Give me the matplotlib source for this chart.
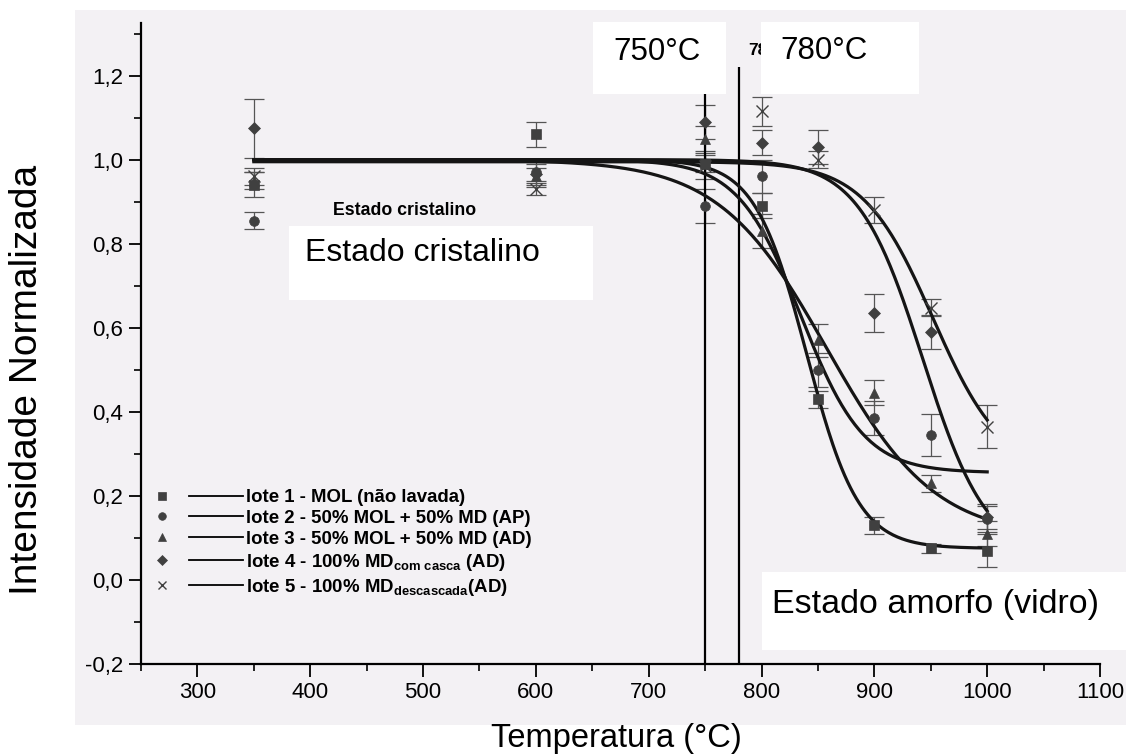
import numpy as np
import matplotlib
matplotlib.use("Agg")
import matplotlib.pyplot as plt
from matplotlib.lines import Line2D
from matplotlib.legend_handler import HandlerBase
from matplotlib.patches import Rectangle
from matplotlib.ticker import MultipleLocator, FuncFormatter

plt.rcParams["font.family"] = ["Liberation Sans", "DejaVu Sans"]
plt.rcParams["mathtext.fontset"] = "custom"
plt.rcParams["mathtext.rm"] = "Liberation Sans:bold"
plt.rcParams["mathtext.it"] = "Liberation Sans:bold"
plt.rcParams["mathtext.bf"] = "Liberation Sans:bold"

# measured normalised intensity per batch
temps = [350, 600, 750, 800, 850, 900, 950, 1000]
lote1 = [0.94, 1.06, 0.99, 0.89, 0.43, 0.13, 0.075, 0.07]
lote2 = [0.855, 0.97, 0.89, 0.96, 0.50, 0.385, 0.345, 0.145]
lote3 = [0.95, 0.96, 1.05, 0.83, 0.57, 0.445, 0.23, 0.11]
lote4 = [1.075, 0.965, 1.09, 1.04, 1.03, 0.635, 0.59, 0.15]
lote5 = [0.96, 0.93, 0.985, 1.115, 1.00, 0.88, 0.648, 0.365]
err1 = [0.03, 0.03, 0.02, 0.03, 0.02, 0.02, 0.01, 0.04]
err2 = [0.02, 0.02, 0.04, 0.04, 0.04, 0.04, 0.05, 0.03]
err3 = [0.02, 0.02, 0.03, 0.04, 0.04, 0.03, 0.02, 0.03]
err4 = [0.07, 0.03, 0.04, 0.03, 0.04, 0.045, 0.04, 0.03]
err5 = [0.02, 0.015, 0.03, 0.035, 0.02, 0.03, 0.02, 0.05]

labels = [
    "lote 1 - MOL (não lavada)",
    "lote 2 - 50% MOL + 50% MD (AP)",
    "lote 3 - 50% MOL + 50% MD (AD)",
    r"lote 4 - 100% MD$_{\mathrm{com\ casca}}$ (AD)",
    r"lote 5 - 100% MD$_{\mathrm{descascada}}$(AD)",
]

# Boltzmann fit parameters per batch
fit_top = [1.0, 1.0, 1.0, 1.0, 0.995]
fit_bottom = [0.075, 0.255, 0.10, 0.05, 0.25]
fit_x0 = [840, 835, 858, 943, 952]
fit_dx = [23, 28, 48, 28.6, 31]

transitions = [750, 780]

series = [lote1, lote2, lote3, lote4, lote5]
errors = [err1, err2, err3, err4, err5]
markers = ["s", "o", "^", "D", "x"]
msizes = [6.5, 7, 7.5, 6, 8]


def boltzmann(t, top, bottom, x0, dx):
    return bottom + (top - bottom) / (1 + np.exp((t - x0) / dx))


class SymbolThenLine(HandlerBase):
    def create_artists(self, legend, orig_handle, xdescent, ydescent,
                       width, height, fontsize, trans):
        yc = height / 2 - ydescent
        sym = Line2D([0.17 * width - xdescent], [yc], linestyle="none",
                     marker=orig_handle.get_marker(),
                     markersize=orig_handle.get_markersize(),
                     color=orig_handle.get_color(),
                     markeredgewidth=orig_handle.get_markeredgewidth())
        seg = Line2D([0.45 * width - xdescent, width - xdescent], [yc, yc],
                     color="black", lw=1.3)
        sym.set_transform(trans)
        seg.set_transform(trans)
        return [sym, seg]


W, H = 1126, 754
fig = plt.figure(figsize=(W / 100, H / 100), dpi=100)
fig.patch.set_facecolor("white")
fig.add_artist(Rectangle((75 / W, 1 - 725 / H), (W - 75) / W, 715 / H,
                         transform=fig.transFigure, fc="#f3f1f4", ec="none", zorder=-1))

ax = fig.add_axes([141 / W, 1 - 664 / H, 959 / W, 641 / H])
ax.set_facecolor("none")

t_fit = np.linspace(350, 1000, 500)
for i in range(5):
    ax.plot(t_fit, boltzmann(t_fit, fit_top[i], fit_bottom[i], fit_x0[i], fit_dx[i]),
            color="#151515", lw=2.3, zorder=4)
    ax.errorbar(temps, series[i], yerr=errors[i], fmt="none", ecolor="#555555",
                elinewidth=0.9, capsize=7, capthick=0.9, zorder=2)
    mew = 1.0 if markers[i] == "x" else 0.5
    ax.plot(temps, series[i], linestyle="none", marker=markers[i], ms=msizes[i],
            color="#404040", mew=mew, zorder=5)

ax.vlines(transitions, -0.2, 1.22, color="black", lw=1.6, zorder=3)

ax.text(420, 0.88, "Estado cristalino", fontsize=12.8, fontweight="bold",
        ha="left", va="center")
# small original tag, mostly hidden under the white box
ax.text(788, 1.26, "780°C", fontsize=12.5, fontweight="bold", ha="left", va="center")

ax.set_xlim(250, 1100)
ax.set_ylim(-0.2, 1.325)
ax.xaxis.set_major_locator(MultipleLocator(100))
ax.xaxis.set_minor_locator(MultipleLocator(50))
ax.yaxis.set_major_locator(MultipleLocator(0.2))
ax.yaxis.set_minor_locator(MultipleLocator(0.1))
ax.yaxis.set_major_formatter(FuncFormatter(lambda v, p: f"{v:.1f}".replace(".", ",")))
ax.set_xticks([300, 400, 500, 600, 700, 800, 900, 1000, 1100])
ax.tick_params(which="major", direction="out", length=9, width=1.3, labelsize=16, pad=4)
ax.tick_params(which="minor", direction="out", length=5, width=1.2)
for side in ("top", "right"):
    ax.spines[side].set_visible(False)
for side in ("left", "bottom"):
    ax.spines[side].set_linewidth(1.6)

handles = [Line2D([], [], linestyle="none", marker=m, ms=5.5, color="#404040",
                  mew=1.0 if m == "x" else 0.5) for m in markers]
ax.legend(handles, labels, handler_map={Line2D: SymbolThenLine()},
          loc="upper left", bbox_to_anchor=(0.004, 0.273), frameon=False,
          borderpad=0, borderaxespad=0, handlelength=5.3, handletextpad=0.15,
          labelspacing=0.21, prop={"weight": "bold", "size": 13.4})

# white label boxes laid over the plot (pixel boxes: x0, y0, x1, y1 from top-left)
boxes = [
    ((593, 22, 726, 94), "750°C", 613, 52, 22.5),
    ((761, 22, 919, 94), "780°C", 780, 51, 22.5),
    ((289, 226, 593, 300), "Estado cristalino", 305, 253, 23),
    ((762, 572, 1126, 650), "Estado amorfo (vidro)", 772, 604, 24.5),
]
for (x0, y0, x1, y1), txt, tx, ty, fs in boxes:
    fig.add_artist(Rectangle((x0 / W, 1 - y1 / H), (x1 - x0) / W, (y1 - y0) / H,
                             transform=fig.transFigure, fc="white", ec="none", zorder=10))
    fig.text(tx / W, 1 - ty / H, txt, fontsize=fs, ha="left", va="center", zorder=11)

fig.text(616 / W, 1 - 738 / H, "Temperatura (°C)", fontsize=23.5, ha="center", va="center")
fig.text(27 / W, 1 - 380 / H, "Intensidade Normalizada", fontsize=28, rotation=90,
         ha="center", va="center")

fig.savefig("out.png", dpi=100)
